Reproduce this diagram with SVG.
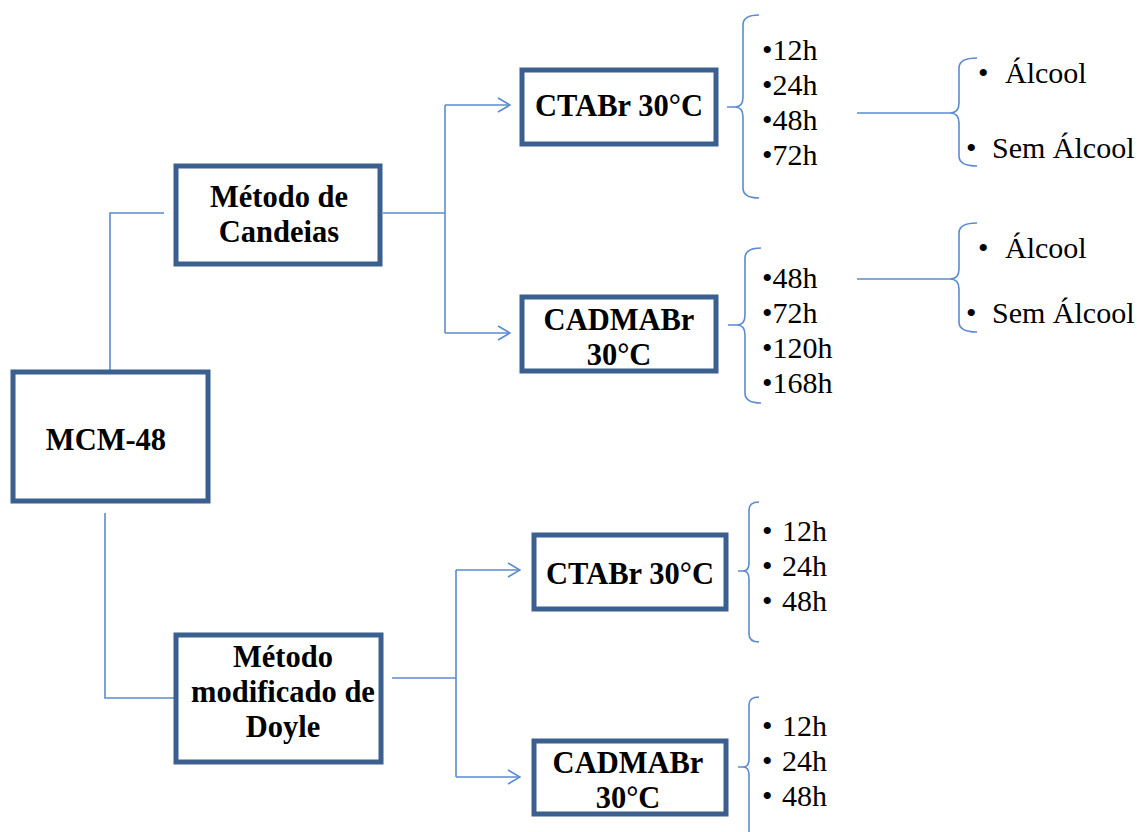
<svg xmlns="http://www.w3.org/2000/svg" width="1140" height="832" viewBox="0 0 1140 832">
<defs>
<style>
.box{fill:#fff;stroke:#3b5f8e;stroke-width:5}
.bt{font-family:"Liberation Serif",serif;font-weight:bold;font-size:30.5px;fill:#000;text-anchor:middle}
.it{font-family:"Liberation Serif",serif;font-size:30px;fill:#000}
.ln{fill:none;stroke:#5b8bd0;stroke-width:1.6}
</style>
<marker id="ar" viewBox="0 0 14 16" refX="13" refY="8" markerWidth="14" markerHeight="16" markerUnits="userSpaceOnUse" orient="auto">
<path d="M1,1 L13,8 L1,15" fill="none" stroke="#5b8bd0" stroke-width="1.6"/>
</marker>
</defs>
<rect width="1140" height="832" fill="#fff"/>
<g id="connectors">
<path class="ln" d="M110,370 V213 H164"/>
<path class="ln" d="M383,213 H445"/>
<path class="ln" d="M445,105 V333"/>
<path class="ln" d="M445,105 H510" marker-end="url(#ar)"/>
<path class="ln" d="M445,333 H510" marker-end="url(#ar)"/>
<path class="ln" d="M105,513 V698 H175"/>
<path class="ln" d="M392,678 H456"/>
<path class="ln" d="M456,570 V777"/>
<path class="ln" d="M456,570 H520" marker-end="url(#ar)"/>
<path class="ln" d="M456,777 H520" marker-end="url(#ar)"/>
<path class="ln" d="M857,113 H950"/>
<path class="ln" d="M857,279 H950"/>
</g>
<g id="braces">
<path class="ln" d="M759,15 Q743,15 743,25 V97 Q743,107 735,107 H727 M735,107 Q743,107 743,117 V188 Q743,198 759,198"/>
<path class="ln" d="M761,248 Q745,248 745,258 V315 Q745,325 737,325 H728 M737,325 Q745,325 745,335 V393 Q745,403 761,403"/>
<path class="ln" d="M977,58 Q959,58 959,68 V103 Q959,113 950,113 M950,113 Q959,113 959,123 V156 Q959,166 977,166"/>
<path class="ln" d="M977,223 Q959,223 959,233 V269 Q959,279 950,279 M950,279 Q959,279 959,289 V322 Q959,332 977,332"/>
<path class="ln" d="M759,502 Q749,502 749,510 V563 Q749,571 743,571 H738 M743,571 Q749,571 749,579 V634 Q749,642 759,642"/>
<path class="ln" d="M759,697 Q749,697 749,705 V759 Q749,767 743,767 H738 M743,767 Q749,767 749,775 V832"/>
</g>
<g id="mcm48">
<rect class="box" x="13" y="372" width="195" height="129"/>
<text class="bt" x="106" y="450">MCM-48</text>
</g>
<g id="candeias">
<rect class="box" x="176" y="166" width="204" height="98"/>
<text class="bt" x="279" y="207">Método de</text>
<text class="bt" x="279" y="242">Candeias</text>
</g>
<g id="doyle">
<rect class="box" x="176" y="635" width="205" height="127"/>
<text class="bt" x="283" y="667">Método</text>
<text class="bt" x="283" y="702">modificado de</text>
<text class="bt" x="283" y="737">Doyle</text>
</g>
<g id="ctabr1">
<rect class="box" x="522" y="70" width="194" height="74"/>
<text class="bt" x="619" y="116">CTABr 30°C</text>
</g>
<g id="cadmabr1">
<rect class="box" x="522" y="297" width="194" height="74"/>
<text class="bt" x="619" y="330">CADMABr</text>
<text class="bt" x="619" y="365">30°C</text>
</g>
<g id="ctabr2">
<rect class="box" x="534" y="535" width="192" height="74"/>
<text class="bt" x="630" y="584">CTABr 30°C</text>
</g>
<g id="cadmabr2">
<rect class="box" x="534" y="741" width="192" height="73"/>
<text class="bt" x="628" y="773">CADMABr</text>
<text class="bt" x="628" y="808">30°C</text>
</g>
<g id="list1">
<text class="it" x="762" y="60">•12h</text>
<text class="it" x="762" y="95">•24h</text>
<text class="it" x="762" y="130">•48h</text>
<text class="it" x="762" y="165">•72h</text>
</g>
<g id="list2">
<text class="it" x="762" y="288">•48h</text>
<text class="it" x="762" y="323">•72h</text>
<text class="it" x="762" y="358">•120h</text>
<text class="it" x="762" y="393">•168h</text>
</g>
<g id="alcool1">
<text class="it" x="978" y="83">•</text>
<text class="it" x="1005" y="83">Álcool</text>
<text class="it" x="966" y="158">•</text>
<text class="it" x="992" y="158">Sem Álcool</text>
</g>
<g id="alcool2">
<text class="it" x="978" y="258">•</text>
<text class="it" x="1005" y="258">Álcool</text>
<text class="it" x="966" y="323">•</text>
<text class="it" x="992" y="323">Sem Álcool</text>
</g>
<g id="list3">
<text class="it" x="762" y="541">•</text>
<text class="it" x="782" y="541">12h</text>
<text class="it" x="762" y="576">•</text>
<text class="it" x="782" y="576">24h</text>
<text class="it" x="762" y="611">•</text>
<text class="it" x="782" y="611">48h</text>
</g>
<g id="list4">
<text class="it" x="762" y="736">•</text>
<text class="it" x="782" y="736">12h</text>
<text class="it" x="762" y="771">•</text>
<text class="it" x="782" y="771">24h</text>
<text class="it" x="762" y="806">•</text>
<text class="it" x="782" y="806">48h</text>
</g>
</svg>
